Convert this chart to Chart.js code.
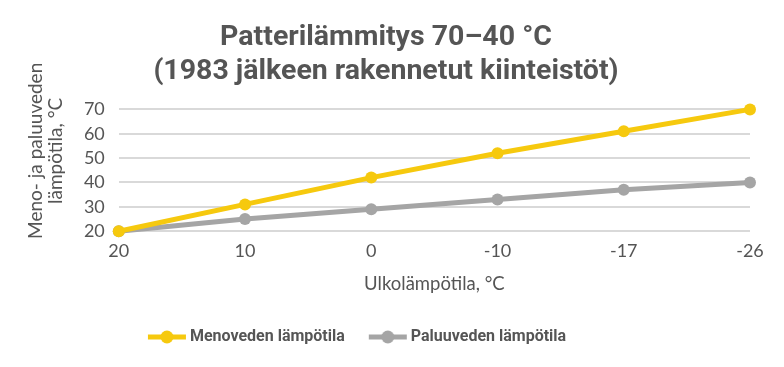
<!DOCTYPE html>
<html>
<head>
<meta charset="utf-8">
<script src="https://cdn.jsdelivr.net/npm/chart.js@4"></script>
<style>
  body { margin: 0; background: #fff; }
  #wrap { width: 784px; height: 367px; }
</style>
</head>
<body>
<div id="wrap"><canvas id="chart" width="784" height="367"></canvas></div>
<script>
// Chart data
const outdoorTemps = ['20', '10', '0', '-10', '-17', '-26'];
const supplyTemps = [20, 31, 42, 52, 61, 70];
const returnTemps = [20, 25, 29, 33, 37, 40];
const seriesNames = ['Menoveden lämpötila', 'Paluuveden lämpötila'];
const yTicks = [20, 30, 40, 50, 60, 70];

const yellow = '#f6c90e';
const grey = '#a5a5a5';
const textColor = '#555555';
const boldFont = 'Roboto, "Liberation Sans", sans-serif';
const lightFont = 'Lato, "Open Sans", sans-serif';

// Small line + dot icon for the legend (drawn towards the right so it sits close to the text)
function legendIcon(color) {
    const c = document.createElement('canvas');
    c.width = 50;
    c.height = 14;
    const ctx = c.getContext('2d');
    ctx.strokeStyle = color;
    ctx.lineWidth = 5;
    ctx.beginPath();
    ctx.moveTo(11, 7);
    ctx.lineTo(49, 7);
    ctx.stroke();
    ctx.fillStyle = color;
    ctx.beginPath();
    ctx.arc(30, 7, 6.5, 0, Math.PI * 2);
    ctx.fill();
    return c;
}

const icons = [legendIcon(yellow), legendIcon(grey)];

// The legend in the reference sits a little left of centre
const legendShift = {
    id: 'legendShift',
    afterLayout(chart) {
        if (chart.legend) {
            chart.legend.left -= 32;
            chart.legend.right -= 32;
        }
    }
};

new Chart(document.getElementById('chart'), {
    type: 'line',
    data: {
        labels: outdoorTemps,
        datasets: [{
            label: seriesNames[0],
            data: supplyTemps,
            borderColor: yellow,
            backgroundColor: yellow,
            borderWidth: 5,
            pointRadius: 6,
            pointBorderWidth: 0
        }, {
            label: seriesNames[1],
            data: returnTemps,
            borderColor: grey,
            backgroundColor: grey,
            borderWidth: 5,
            pointRadius: 6,
            pointBorderWidth: 0
        }]
    },
    plugins: [legendShift],
    options: {
        responsive: false,
        animation: false,
        clip: false,
        layout: { padding: { left: 22, right: 34, top: 0, bottom: 12 } },
        plugins: {
            title: {
                display: true,
                text: ['Patterilämmitys 70–40 °C', '(1983 jälkeen rakennetut kiinteistöt)'],
                color: textColor,
                font: { family: boldFont, size: 28.5, weight: 'bold', lineHeight: 1.2 },
                padding: { top: 21, bottom: 20 }
            },
            legend: {
                position: 'bottom',
                labels: {
                    usePointStyle: true,
                    pointStyleWidth: 40,
                    padding: 18,
                    color: textColor,
                    font: { family: boldFont, size: 16, weight: 'bold' },
                    generateLabels: chart => chart.data.datasets.map((ds, i) => ({
                        text: ds.label,
                        pointStyle: icons[i],
                        fillStyle: ds.borderColor,
                        strokeStyle: ds.borderColor,
                        lineWidth: 0,
                        fontColor: textColor,
                        datasetIndex: i
                    }))
                }
            },
            tooltip: { enabled: false }
        },
        scales: {
            x: {
                offset: false,
                grid: { display: false, drawTicks: false },
                border: { display: false },
                ticks: { color: textColor, font: { family: lightFont, size: 18 }, padding: 9 },
                title: {
                    display: true,
                    text: 'Ulkolämpötila, °C',
                    color: textColor,
                    font: { family: lightFont, size: 18.5 },
                    padding: { top: 2, bottom: 16 }
                }
            },
            y: {
                min: 20,
                max: 70,
                afterBuildTicks: axis => { axis.ticks = yTicks.map(v => ({ value: v })); },
                grid: { color: '#d9d9d9', lineWidth: 2, drawTicks: false },
                border: { display: false },
                ticks: { color: textColor, autoSkip: false, font: { family: lightFont, size: 18 }, padding: 14 },
                title: {
                    display: true,
                    text: ['        Meno- ja paluuveden', '        lämpötila, °C'],
                    color: textColor,
                    font: { family: lightFont, size: 19, lineHeight: 1.05 },
                    padding: { bottom: 4 }
                }
            }
        }
    }
});
</script>
</body>
</html>
